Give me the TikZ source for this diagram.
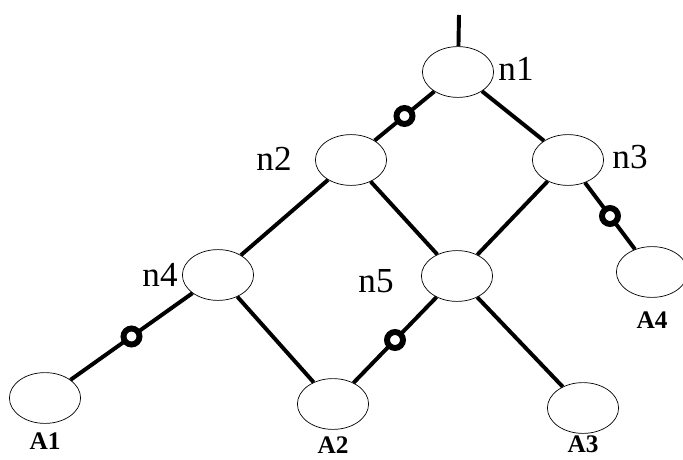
\documentclass[tikz,border=0pt]{standalone}
\usepackage{fontspec}
\setmainfont{Liberation Serif}
\usetikzlibrary{shapes.geometric}

\tikzset{
  bubble/.style={ellipse, draw, line width=0.5pt, minimum width=1.78cm, minimum height=1.27cm, inner sep=0pt},
  ring/.style={circle, draw, fill=white, line width=4.2pt, minimum size=0.4cm, inner sep=0pt},
  wire/.style={line width=2.8pt},
  nlab/.style={font=\fontsize{25}{28}\selectfont},
  alab/.style={font=\fontsize{18}{20}\selectfont\bfseries}
}

\begin{document}
\begin{tikzpicture}
  \useasboundingbox (0,0) rectangle (17.075,11.475);
  % nodes of the net
  \node[bubble] (n1) at (11.45,9.675) {};
  \node[bubble] (n2) at (8.775,7.475) {};
  \node[bubble] (n3) at (14.2,7.475) {};
  \node[bubble] (n4) at (5.45,4.6) {};
  \node[bubble] (n5) at (11.425,4.575) {};
  \node[bubble] (a1) at (1.125,1.525) {};
  \node[bubble] (a2) at (8.325,1.375) {};
  \node[bubble] (a3) at (14.575,1.275) {};
  \node[bubble] (a4) at (16.3,4.675) {};
  \coordinate (top) at (11.475,11.1);
  % labels
  \node[nlab] (ln1) at (12.9,9.75) {n1};
  \node[nlab] (ln2) at (6.85,7.5) {n2};
  \node[nlab] (ln3) at (15.75,7.55) {n3};
  \node[nlab] (ln4) at (4.0,4.6) {n4};
  \node[nlab] (ln5) at (9.4,4.45) {n5};
  \node[alab] (la1) at (1.125,0.45) {A1};
  \node[alab] (la2) at (8.325,0.35) {A2};
  \node[alab] (la3) at (14.575,0.36) {A3};
  \node[alab] (la4) at (16.3,3.475) {A4};
  % edges
  \draw[wire] (top) -- (n1);
  \draw[wire] (n1) -- node[ring] (r1) {} (n2);
  \draw[wire] (n1) -- (n3);
  \draw[wire] (n2) -- (n4);
  \draw[wire] (n2) -- (n5);
  \draw[wire] (n3) -- (n5);
  \draw[wire] (n3) -- node[ring] (r2) {} (a4);
  \draw[wire] (n4) -- node[ring] (r3) {} (a1);
  \draw[wire] (n4) -- (a2);
  \draw[wire] (n5) -- node[ring] (r4) {} (a2);
  \draw[wire] (n5) -- (a3);
\end{tikzpicture}
\end{document}
